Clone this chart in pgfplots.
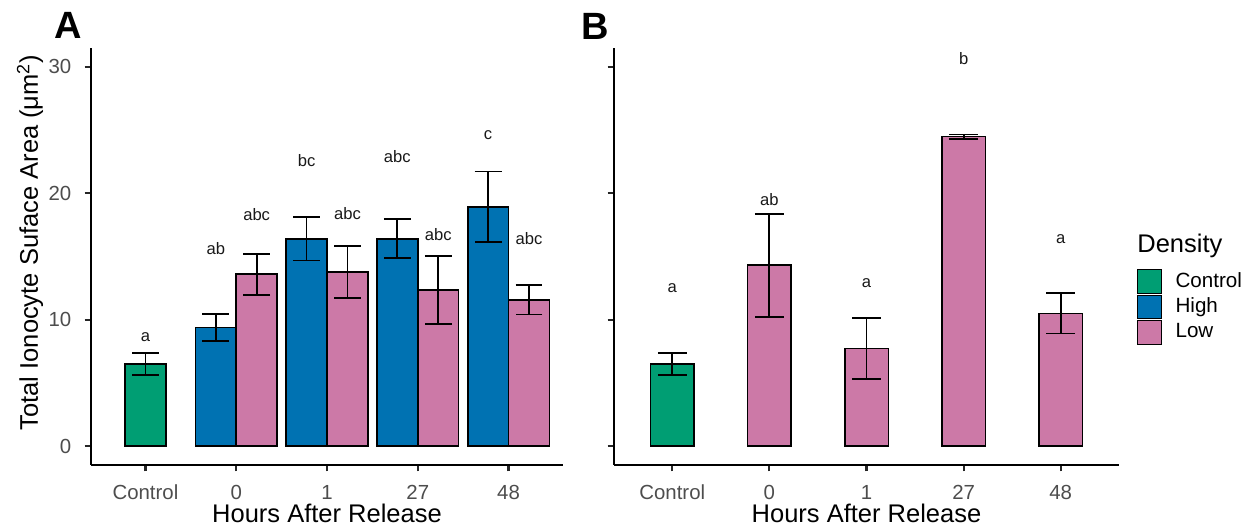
\documentclass[border=0pt]{standalone}
\usepackage{fontspec}
\setmainfont{Liberation Sans}
\usepackage{pgfplots}
\usepackage{pgfplotstable}
\pgfplotsset{compat=1.18}

\definecolor{ctrl}{HTML}{009E73}
\definecolor{high}{HTML}{0072B2}
\definecolor{low}{HTML}{CC79A7}
\definecolor{ticktxt}{HTML}{4D4D4D}

% panel A: mean and standard error
\pgfplotstableread{
x y e
1 6.49 0.85
}\ctrlA
\pgfplotstableread{
x y e
1.775 9.37 1.05
2.775 16.39 1.71
3.775 16.41 1.53
4.775 18.94 2.78
}\highA
\pgfplotstableread{
x y e
2.225 13.59 1.63
3.225 13.75 2.05
4.225 12.35 2.69
5.225 11.58 1.17
}\lowA
\pgfplotstableread{
x y lab
1 8.65 a
1.775 15.65 ab
2.225 18.34 abc
2.775 22.59 bc
3.225 18.36 abc
3.775 22.9 abc
4.225 16.7 abc
4.775 24.62 c
5.225 16.44 abc
}\letA

% panel B
\pgfplotstableread{
x y e
1 6.49 0.85
}\ctrlB
\pgfplotstableread{
x y e
2 14.3 4.09
3 7.73 2.42
4 24.49 0.17
5 10.5 1.6
}\lowB
\pgfplotstableread{
x y lab
1 12.48 a
2 19.47 ab
3 12.88 a
4 30.69 b
5 16.36 a
}\letB

\pgfplotsset{
  panel/.style={
    scale only axis, height=208.5pt,
    xmin=0.4, xmax=5.6, ymin=-1.5, ymax=31.5,
    axis lines*=left,
    axis line style={line width=1.2pt, black},
    xtick={1,2,3,4,5}, xticklabels={Control,0,1,27,48},
    ytick={0,10,20,30},
    tick align=outside, major tick length=3.2pt,
    every tick/.style={line width=1.1pt, black!85},
    ticklabel style={font=\fontsize{10.2}{12}\selectfont, text=ticktxt},
    /pgf/number format/assume math mode=true,
    xticklabel style={anchor=base, inner sep=0pt, yshift=-14.15pt},
    yticklabel style={anchor=east, inner sep=0pt, xshift=-6.5pt},
    every axis x label/.style={at={(axis description cs:0.5,-0.1367)}, anchor=base,
      font=\fontsize{12.75}{15}\selectfont},
    xlabel={Hours After Release},
    clip=false,
    error bars/error bar style={line width=0.9pt, black},
  },
  bars/.style={ybar, bar width=0.45, bar shift=0pt, draw=black,
    line width=0.85pt, fill=#1},
  letters/.style={draw=none, mark=none, nodes near coords,
    point meta=explicit symbolic,
    every node near coord/.style={anchor=center, inner sep=0pt,
      font=\fontsize{8.3}{10}\selectfont, text=black!90}},
}

\begin{document}
\begin{tikzpicture}
\useasboundingbox (0pt,0pt) rectangle (626.5pt,264.5pt);

\begin{axis}[panel, width=236pt, at={(45.5pt,32pt)}, anchor=south west,
  error bars/error mark options={rotate=90, line width=0.9pt, black, mark size=6.7pt},
  every axis y label/.style={at={(axis description cs:-0.1123,0.5336)}, rotate=90,
    anchor=base, font=\fontsize{12.75}{15}\selectfont},
  ylabel={Total Ionocyte Suface Area (μm\textsuperscript{2})}]
\addplot[bars=ctrl, error bars/.cd, y dir=both, y explicit]
  table[x=x, y=y, y error=e] {\ctrlA};
\addplot[bars=high, error bars/.cd, y dir=both, y explicit]
  table[x=x, y=y, y error=e] {\highA};
\addplot[bars=low, error bars/.cd, y dir=both, y explicit]
  table[x=x, y=y, y error=e] {\lowA};
\addplot[letters] table[x=x, y=y, meta=lab] {\letA};
\end{axis}

\begin{axis}[panel, width=252.5pt, at={(307pt,32pt)}, anchor=south west,
  yticklabels={},
  error bars/error mark options={rotate=90, line width=0.9pt, black, mark size=7.2pt},
  legend image code/.code={\draw[#1] (0pt,-5.9pt) rectangle (11.8pt,5.9pt);},
  legend entries={Control,High,Low},
  legend style={at={(axis description cs:1.0356,0.47)}, anchor=north west,
    draw=none, fill=none, inner sep=0pt, outer sep=0pt,
    row sep=0.45pt, column sep=7pt,
    font=\fontsize{10.3}{12}\selectfont,
    cells={anchor=west}, nodes={inner sep=0pt}}]
\addlegendimage{fill=ctrl, draw=black, line width=0.5pt}
\addlegendimage{fill=high, draw=black, line width=0.5pt}
\addlegendimage{fill=low, draw=black, line width=0.5pt}
\addplot[bars=ctrl, error bars/.cd, y dir=both, y explicit]
  table[x=x, y=y, y error=e] {\ctrlB};
\addplot[bars=low, error bars/.cd, y dir=both, y explicit]
  table[x=x, y=y, y error=e] {\lowB};
\addplot[letters] table[x=x, y=y, meta=lab] {\letB};
\node[anchor=base west, inner sep=0pt, font=\fontsize{12.75}{15}\selectfont]
  at (axis description cs:1.0356,0.5084) {Density};
\end{axis}

\node[anchor=base, inner sep=0pt, font=\fontsize{19}{22}\selectfont\bfseries]
  at (34.25pt,245pt) {A};
\node[anchor=base, inner sep=0pt, font=\fontsize{19}{22}\selectfont\bfseries]
  at (297.75pt,244.5pt) {B};
\end{tikzpicture}
\end{document}
